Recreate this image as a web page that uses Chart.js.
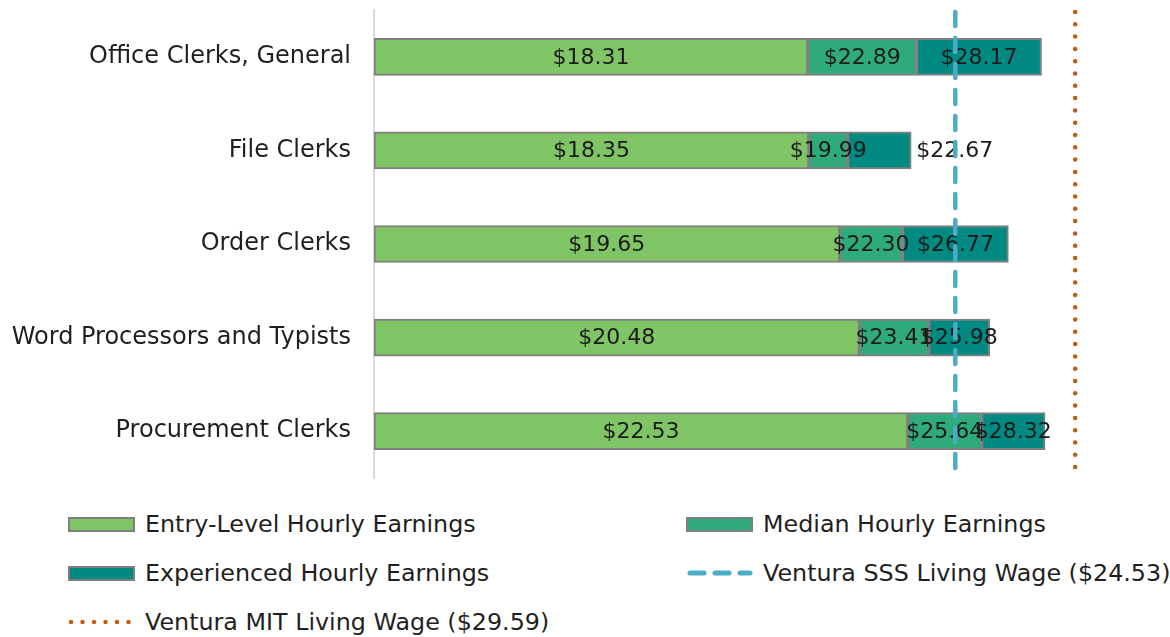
<!DOCTYPE html>
<html lang="en">
<head>
    <meta charset="UTF-8">
    <title>Clerical Hourly Earnings</title>
    <script src="https://cdn.jsdelivr.net/npm/chart.js"></script>
    <style>
        * {
            margin: 0;
            padding: 0;
            box-sizing: border-box;
        }

        body {
            background: #ffffff;
            width: 1170px;
            height: 637px;
            overflow: hidden;
            font-family: "DejaVu Sans", Arial, sans-serif;
            color: #1f1f1f;
        }

        .wrap {
            position: relative;
            width: 1170px;
            height: 637px;
        }

        .legend-item {
            position: absolute;
            height: 30px;
            display: flex;
            align-items: center;
            font-size: 23.8px;
            white-space: nowrap;
        }

        .swatch {
            width: 67px;
            height: 15px;
            border: 2px solid #7f7f7f;
            margin-right: 10px;
        }

        .line-swatch {
            width: 67px;
            height: 6px;
            margin-right: 10px;
        }
    </style>
</head>
<body>
    <div class="wrap">
        <canvas id="wageChart" width="1170" height="490"></canvas>
        <div id="legend"></div>
    </div>

    <script>
        // Occupations and hourly wages
        const categories = ['Office Clerks, General', 'File Clerks', 'Order Clerks', 'Word Processors and Typists', 'Procurement Clerks'];
        const entryWage = [18.31, 18.35, 19.65, 20.48, 22.53];
        const medianWage = [22.89, 19.99, 22.30, 23.41, 25.64];
        const experiencedWage = [28.17, 22.67, 26.77, 25.98, 28.32];
        const sssWage = 24.53;
        const mitWage = 29.59;

        const colors = {
            entry: '#80c565',
            median: '#2fab7b',
            experienced: '#008a82',
            border: '#7f7f7f',
            sss: '#4bacc6',
            mit: '#c55a11'
        };
        const fontFamily = '"DejaVu Sans", Arial, sans-serif';

        // each segment runs from the previous wage to the next one
        const entryBars = entryWage.map(v => [0, v]);
        const medianBars = medianWage.map((v, i) => [entryWage[i], v]);
        const experiencedBars = experiencedWage.map((v, i) => [medianWage[i], v]);

        // labels: value shown at segment centre, File Clerks experienced sits past the bar end
        const valueLabels = {
            id: 'valueLabels',
            afterDatasetsDraw(chart) {
                const ctx = chart.ctx;
                ctx.save();
                ctx.font = '22px ' + fontFamily;
                ctx.fillStyle = '#1a1a1a';
                ctx.textBaseline = 'middle';
                chart.data.datasets.forEach((ds, di) => {
                    const meta = chart.getDatasetMeta(di);
                    meta.data.forEach((bar, i) => {
                        const txt = '$' + ds.data[i][1].toFixed(2);
                        if (di === 2 && i === 1) {
                            ctx.textAlign = 'left';
                            ctx.fillText(txt, bar.x + 5, bar.y + 1);
                        } else {
                            ctx.textAlign = 'center';
                            ctx.fillText(txt, (bar.x + bar.base) / 2, bar.y + 1);
                        }
                    });
                });
                ctx.restore();
            }
        };

        // living wage reference lines
        const wageLines = {
            id: 'wageLines',
            afterDatasetsDraw(chart) {
                const ctx = chart.ctx;
                const xs = chart.scales.x;
                const top = chart.chartArea.top;
                const bottom = chart.chartArea.bottom;
                ctx.save();
                ctx.lineCap = 'round';

                ctx.strokeStyle = colors.sss;
                ctx.lineWidth = 4.5;
                ctx.setLineDash([14, 12]);
                const xs1 = xs.getPixelForValue(sssWage);
                ctx.beginPath();
                ctx.moveTo(xs1, top + 2);
                ctx.lineTo(xs1, bottom);
                ctx.stroke();

                ctx.strokeStyle = colors.mit;
                ctx.lineWidth = 4.5;
                ctx.setLineDash([0, 12.3]);
                const xs2 = xs.getPixelForValue(mitWage);
                ctx.beginPath();
                ctx.moveTo(xs2, top + 2);
                ctx.lineTo(xs2, bottom);
                ctx.stroke();
                ctx.restore();
            }
        };

        const barCommon = {
            borderColor: colors.border,
            borderWidth: 2,
            borderSkipped: false,
            barThickness: 37,
            grouped: false
        };

        new Chart(document.getElementById('wageChart'), {
            type: 'bar',
            data: {
                labels: categories,
                datasets: [
                    Object.assign({ label: 'Entry-Level Hourly Earnings', data: entryBars, backgroundColor: colors.entry }, barCommon),
                    Object.assign({ label: 'Median Hourly Earnings', data: medianBars, backgroundColor: colors.median }, barCommon),
                    Object.assign({ label: 'Experienced Hourly Earnings', data: experiencedBars, backgroundColor: colors.experienced }, barCommon)
                ]
            },
            options: {
                indexAxis: 'y',
                responsive: false,
                devicePixelRatio: 1,
                animation: false,
                layout: {
                    padding: { top: 10, bottom: 12, right: 14, left: 0 }
                },
                scales: {
                    x: {
                        display: false,
                        min: 0,
                        max: 33
                    },
                    y: {
                        afterFit(scale) {
                            scale.width = 374;
                            scale.paddingTop = 0;
                            scale.paddingBottom = 0;
                        },
                        grid: { display: false, drawTicks: false },
                        border: { display: true, color: '#d9d9d9', width: 2 },
                        ticks: {
                            padding: 23,
                            color: '#1f1f1f',
                            font: { family: fontFamily, size: 24 }
                        }
                    }
                },
                plugins: {
                    legend: { display: false },
                    tooltip: { enabled: false }
                }
            },
            plugins: [valueLabels, wageLines]
        });

        // legend below the chart, two columns
        const legendItems = [
            { text: 'Entry-Level Hourly Earnings', kind: 'box', color: colors.entry, left: 68, top: 509 },
            { text: 'Median Hourly Earnings', kind: 'box', color: colors.median, left: 686, top: 509 },
            { text: 'Experienced Hourly Earnings', kind: 'box', color: colors.experienced, left: 68, top: 558 },
            { text: 'Ventura SSS Living Wage ($24.53)', kind: 'dash', color: colors.sss, left: 686, top: 558 },
            { text: 'Ventura MIT Living Wage ($29.59)', kind: 'dot', color: colors.mit, left: 68, top: 607 }
        ];
        const legend = document.getElementById('legend');
        legendItems.forEach(item => {
            const el = document.createElement('div');
            el.className = 'legend-item';
            el.style.left = item.left + 'px';
            el.style.top = item.top + 'px';
            let sw;
            if (item.kind === 'box') {
                sw = document.createElement('div');
                sw.className = 'swatch';
                sw.style.background = item.color;
            } else {
                sw = document.createElement('canvas');
                sw.className = 'line-swatch';
                sw.width = 67;
                sw.height = 6;
                const c = sw.getContext('2d');
                c.strokeStyle = item.color;
                c.lineCap = 'round';
                if (item.kind === 'dash') {
                    c.lineWidth = 5;
                    c.setLineDash([14, 11]);
                    c.beginPath();
                    c.moveTo(4, 3);
                    c.lineTo(64, 3);
                } else {
                    c.lineWidth = 4.5;
                    c.setLineDash([0, 11.5]);
                    c.beginPath();
                    c.moveTo(3, 3);
                    c.lineTo(64, 3);
                }
                c.stroke();
            }
            const label = document.createElement('span');
            label.textContent = item.text;
            el.appendChild(sw);
            el.appendChild(label);
            legend.appendChild(el);
        });
    </script>
</body>
</html>
